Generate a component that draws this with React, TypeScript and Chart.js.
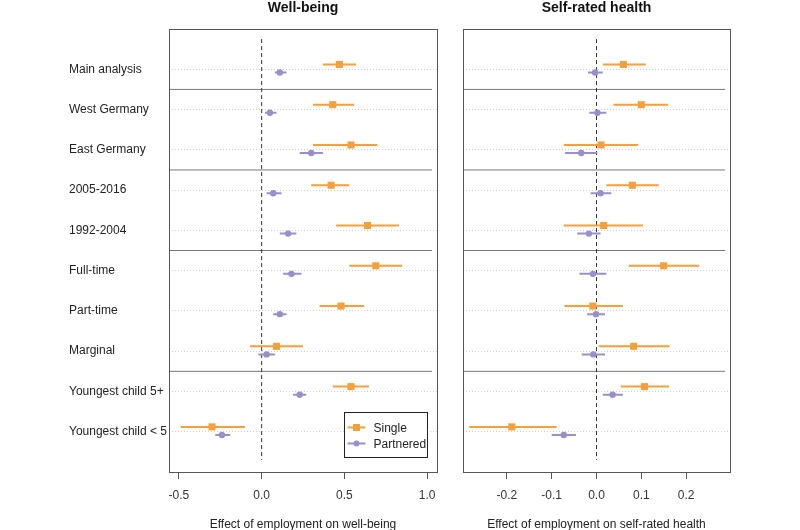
import React, { useEffect, useRef } from "react";
import { Chart, registerables } from "chart.js";
Chart.register(...registerables);

const categories = [
  "Main analysis",
  "West Germany",
  "East Germany",
  "2005-2016",
  "1992-2004",
  "Full-time",
  "Part-time",
  "Marginal",
  "Youngest child 5+",
  "Youngest child < 5",
];
const groupBreaks = [1.5, 3.5, 5.5, 8.5];

const wbSingle = [0.47, 0.43, 0.54, 0.42, 0.64, 0.69, 0.48, 0.09, 0.54, -0.3];
const wbSingleLo = [0.37, 0.31, 0.31, 0.3, 0.45, 0.53, 0.35, -0.07, 0.43, -0.49];
const wbSingleHi = [0.57, 0.56, 0.7, 0.53, 0.83, 0.85, 0.62, 0.25, 0.65, -0.1];
const wbPartnered = [0.11, 0.05, 0.3, 0.07, 0.16, 0.18, 0.11, 0.03, 0.23, -0.24];
const wbPartneredLo = [0.08, 0.02, 0.23, 0.03, 0.11, 0.13, 0.07, -0.02, 0.19, -0.28];
const wbPartneredHi = [0.15, 0.09, 0.37, 0.12, 0.21, 0.24, 0.15, 0.08, 0.27, -0.19];

const hSingle = [0.06, 0.1, 0.01, 0.08, 0.016, 0.15, -0.008, 0.083, 0.107, -0.189];
const hSingleLo = [0.014, 0.038, -0.073, 0.022, -0.073, 0.072, -0.072, 0.005, 0.054, -0.284];
const hSingleHi = [0.11, 0.16, 0.093, 0.139, 0.104, 0.229, 0.059, 0.163, 0.162, -0.089];
const hPartnered = [-0.003, 0.002, -0.034, 0.009, -0.017, -0.008, -0.001, -0.007, 0.036, -0.073];
const hPartneredLo = [-0.019, -0.016, -0.07, -0.013, -0.043, -0.038, -0.021, -0.033, 0.014, -0.1];
const hPartneredHi = [0.014, 0.022, 0.002, 0.033, 0.009, 0.022, 0.019, 0.019, 0.059, -0.046];

const wbTicks = [-0.5, 0, 0.5, 1.0];
const hTicks = [-0.2, -0.1, 0, 0.1, 0.2];

const ORANGE = "#F4A03C";
const PURPLE = "#9A8FC8";
const FONT = "'Liberation Sans', Arial, sans-serif";

type PanelSpec = {
  title: string;
  axisTitle: string;
  min: number;
  max: number;
  sepEnd: number;
  ticks: number[];
  single: number[];
  singleLo: number[];
  singleHi: number[];
  partnered: number[];
  partneredLo: number[];
  partneredHi: number[];
  showLabels: boolean;
  showLegend: boolean;
  padLeft: number;
  padRight: number;
  yWidth: number;
};

const S_OFF = -0.12;
const P_OFF = 0.08;

function buildConfig(p: PanelSpec): any {
  const rows = categories.map((_, i) => i + 1);
  const segs = (lo: number[], hi: number[], off: number) => {
    const d: any[] = [];
    lo.forEach((l, i) => {
      d.push({ x: l, y: rows[i] + off }, { x: hi[i], y: rows[i] + off }, { x: null, y: null });
    });
    return d;
  };
  const pts = (v: number[], off: number) => v.map((x, i) => ({ x, y: rows[i] + off }));
  const sepData: any[] = [];
  groupBreaks.forEach((b) => {
    sepData.push({ x: p.min, y: b }, { x: p.sepEnd, y: b }, { x: null, y: null });
  });

  const decor = {
    id: "decor",
    afterDraw(chart: any) {
      const { ctx, chartArea } = chart;
      const { left, right, top, bottom } = chartArea;
      ctx.save();
      ctx.strokeStyle = "#555";
      ctx.lineWidth = 1;
      ctx.strokeRect(Math.round(left) + 0.5, Math.round(top) + 0.5, Math.round(right - left), Math.round(bottom - top));
      ctx.fillStyle = "#111";
      ctx.font = `bold 14px ${FONT}`;
      ctx.textAlign = "center";
      ctx.textBaseline = "middle";
      ctx.fillText(p.title, (left + right) / 2, 8);
      if (p.showLegend) {
        const lw = 83, lh = 45;
        const lx = Math.round(right - 10 - lw) + 0.5;
        const ly = Math.round(bottom - 15 - lh) + 0.5;
        ctx.fillStyle = "#fff";
        ctx.fillRect(lx, ly, lw, lh);
        ctx.strokeStyle = "#222";
        ctx.strokeRect(lx, ly, lw, lh);
        const items = [
          { label: chart.data.datasets[0].label, color: ORANGE, square: true, y: ly + 15 },
          { label: chart.data.datasets[1].label, color: PURPLE, square: false, y: ly + 31 },
        ];
        items.forEach((it) => {
          ctx.strokeStyle = it.color;
          ctx.lineWidth = 2;
          ctx.beginPath();
          ctx.moveTo(lx + 3, it.y);
          ctx.lineTo(lx + 21, it.y);
          ctx.stroke();
          ctx.fillStyle = it.color;
          if (it.square) ctx.fillRect(lx + 12 - 3.5, it.y - 3.5, 7, 7);
          else {
            ctx.beginPath();
            ctx.arc(lx + 12, it.y, 3, 0, Math.PI * 2);
            ctx.fill();
          }
          ctx.fillStyle = "#222";
          ctx.font = `12px ${FONT}`;
          ctx.textAlign = "left";
          ctx.textBaseline = "middle";
          ctx.fillText(it.label, lx + 29, it.y + 1);
        });
      }
      ctx.restore();
    },
  };

  return {
    type: "scatter",
    data: {
      datasets: [
        {
          label: "Single",
          data: pts(p.single, S_OFF),
          pointStyle: "rect",
          pointRadius: 5,
          backgroundColor: ORANGE,
          borderColor: ORANGE,
          borderWidth: 0,
          order: 0,
        },
        {
          label: "Partnered",
          data: pts(p.partnered, P_OFF),
          pointStyle: "circle",
          pointRadius: 3.2,
          backgroundColor: PURPLE,
          borderColor: PURPLE,
          borderWidth: 0,
          order: 1,
        },
        {
          label: "Single CI",
          data: segs(p.singleLo, p.singleHi, S_OFF),
          showLine: true,
          spanGaps: false,
          pointRadius: 0,
          borderColor: ORANGE,
          borderWidth: 2,
          order: 2,
        },
        {
          label: "Partnered CI",
          data: segs(p.partneredLo, p.partneredHi, P_OFF),
          showLine: true,
          spanGaps: false,
          pointRadius: 0,
          borderColor: PURPLE,
          borderWidth: 2,
          order: 3,
        },
        {
          label: "zero",
          data: [{ x: 0, y: 0.25 }, { x: 0, y: 10.7 }],
          showLine: true,
          pointRadius: 0,
          borderColor: "#333",
          borderWidth: 1,
          borderDash: [4, 3],
          order: 4,
        },
        {
          label: "groups",
          data: sepData,
          showLine: true,
          spanGaps: false,
          pointRadius: 0,
          borderColor: "#777",
          borderWidth: 1,
          order: 5,
        },
      ],
    },
    options: {
      animation: false,
      responsive: false,
      maintainAspectRatio: false,
      devicePixelRatio: 1,
      layout: { padding: { left: p.padLeft, right: p.padRight, top: 29, bottom: 0 } },
      plugins: { legend: { display: false }, tooltip: { enabled: false }, title: { display: false } },
      scales: {
        x: {
          type: "linear",
          min: p.min,
          max: p.max,
          afterBuildTicks: (s: any) => {
            s.ticks = p.ticks.map((v) => ({ value: v }));
          },
          afterFit: (s: any) => {
            s.height = 58;
          },
          ticks: {
            callback: (v: any) => Number(v).toFixed(1),
            color: "#333",
            font: { family: FONT, size: 12 },
            padding: 9,
            maxRotation: 0,
            autoSkip: false,
          },
          grid: { drawOnChartArea: false, drawTicks: true, tickLength: 7, color: "#555" },
          border: { display: true, color: "#555" },
          title: {
            display: true,
            text: p.axisTitle,
            color: "#222",
            font: { family: FONT, size: 12 },
            padding: { top: 0, bottom: -2 },
          },
        },
        y: {
          type: "linear",
          reverse: true,
          min: 0,
          max: 11,
          afterBuildTicks: (s: any) => {
            s.ticks = categories.map((_, i) => ({ value: i + 1 }));
          },
          afterFit: (s: any) => {
            s.width = p.yWidth;
          },
          ticks: {
            display: p.showLabels,
            crossAlign: "far",
            callback: (v: any) => categories[Number(v) - 1] ?? "",
            color: "#222",
            font: { family: FONT, size: 12 },
            autoSkip: false,
          },
          grid: { drawOnChartArea: true, drawTicks: false, color: "#cfcfcf", lineWidth: 1 },
          border: { display: false, dash: [1, 2] },
        },
      },
    },
    plugins: [decor],
  };
}

function Panel({ spec, left, width }: { spec: PanelSpec; left: number; width: number }) {
  const ref = useRef<HTMLCanvasElement | null>(null);
  useEffect(() => {
    if (!ref.current) return;
    const chart = new Chart(ref.current, buildConfig(spec));
    return () => chart.destroy();
  }, []);
  return (
    <canvas
      ref={ref}
      width={width}
      height={530}
      style={{ position: "absolute", left, top: 0, width, height: 530 }}
    />
  );
}

const wbSpec: PanelSpec = {
  title: "Well-being",
  axisTitle: "Effect of employment on well-being",
  min: -0.56,
  max: 1.06,
  sepEnd: 1.03,
  ticks: wbTicks,
  single: wbSingle,
  singleLo: wbSingleLo,
  singleHi: wbSingleHi,
  partnered: wbPartnered,
  partneredLo: wbPartneredLo,
  partneredHi: wbPartneredHi,
  showLabels: true,
  showLegend: true,
  padLeft: 69,
  padRight: 13,
  yWidth: 100,
};

const hSpec: PanelSpec = {
  title: "Self-rated health",
  axisTitle: "Effect of employment on self-rated health",
  min: -0.298,
  max: 0.298,
  sepEnd: 0.287,
  ticks: hTicks,
  single: hSingle,
  singleLo: hSingleLo,
  singleHi: hSingleHi,
  partnered: hPartnered,
  partneredLo: hPartneredLo,
  partneredHi: hPartneredHi,
  showLabels: false,
  showLegend: false,
  padLeft: 13,
  padRight: 70,
  yWidth: 0,
};

export default function App() {
  return (
    <div style={{ position: "absolute", left: 0, top: 0, width: 800, height: 530, background: "#fff" }}>
      <Panel spec={wbSpec} left={0} width={450} />
      <Panel spec={hSpec} left={450} width={350} />
    </div>
  );
}
